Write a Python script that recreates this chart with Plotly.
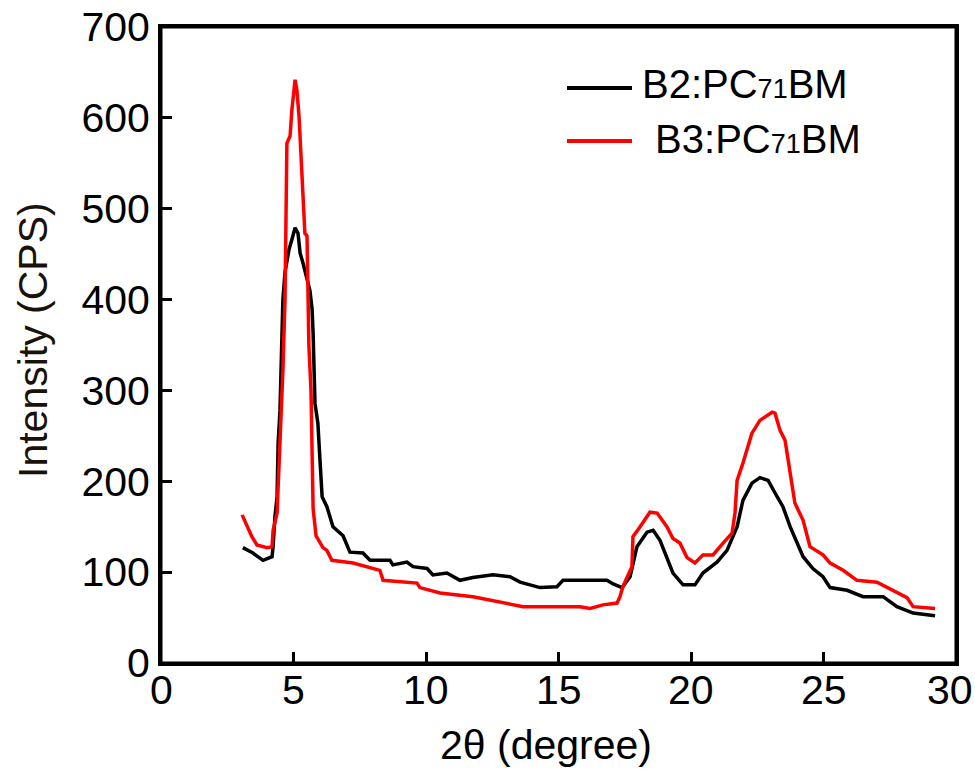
import plotly.graph_objects as go

# ---- data ----
b2_two_theta = [3.09, 3.47, 3.85, 4.19, 4.23, 4.30, 4.38, 4.42, 4.49, 4.57, 4.60, 4.68, 4.83, 4.94,
                5.06, 5.17, 5.25, 5.36, 5.62, 5.70, 5.74, 5.81, 5.92, 6.00, 6.08, 6.26, 6.49, 6.87,
                7.13, 7.62, 7.89, 8.64, 8.75, 9.28, 9.51, 10.04, 10.26, 10.79, 11.28, 11.77, 12.53,
                13.17, 13.55, 14.30, 14.94, 15.17, 16.83, 17.06, 17.40, 17.70, 17.96, 18.34, 18.57,
                18.83, 19.09, 19.32, 19.70, 20.15, 20.45, 20.98, 21.36, 21.74, 21.96, 22.30, 22.60,
                22.91, 23.25, 23.47, 23.74, 24.00, 24.23, 24.60, 24.98, 25.25, 25.89, 26.49, 27.25,
                27.77, 28.38, 29.21]
b2_intensity = [127, 121, 113, 117, 128, 161, 183, 242, 278, 374, 400, 430, 455, 466,
                479, 473, 451, 440, 410, 390, 363, 286, 264, 223, 183, 172, 150, 140,
                122, 121, 113, 113, 108, 111, 106, 104, 97, 99, 91, 94, 97,
                95, 89, 83, 84, 91, 91, 87, 83, 95, 128, 144, 146,
                135, 117, 99, 86, 86, 99, 111, 124, 150, 179, 198, 204,
                201, 183, 172, 150, 132, 117, 104, 95, 83, 80, 73, 73,
                62, 55, 52]

b3_two_theta = [3.06, 3.25, 3.43, 3.62, 4.00, 4.19, 4.23, 4.38, 4.49, 4.60, 4.68, 4.75, 4.87, 4.94,
                5.06, 5.13, 5.21, 5.32, 5.43, 5.51, 5.58, 5.66, 5.70, 5.74, 5.85, 6.11, 6.26, 6.45,
                7.25, 8.26, 8.38, 9.66, 9.77, 10.53, 11.77, 12.91, 13.66, 15.81, 16.19, 16.68, 17.21,
                17.32, 17.43, 17.77, 17.81, 18.08, 18.45, 18.72, 19.09, 19.32, 19.58, 19.85, 20.15,
                20.45, 20.83, 21.21, 21.55, 21.66, 21.74, 21.96, 22.30, 22.60, 23.06, 23.17, 23.36,
                23.55, 23.74, 23.92, 24.23, 24.49, 24.98, 25.25, 25.74, 26.26, 27.02, 27.62, 28.15,
                28.38, 29.21]
b3_intensity = [163, 150, 139, 130, 127, 128, 146, 165, 238, 322, 400, 572, 580, 609,
                642, 630, 601, 532, 473, 470, 350, 300, 230, 170, 140, 127, 124, 113,
                110, 102, 91, 88, 83, 77, 73, 66, 62, 62, 60, 64, 66,
                73, 84, 106, 139, 150, 166, 165, 150, 137, 132, 116, 110,
                119, 119, 132, 143, 165, 201, 220, 253, 267, 276, 275, 256,
                245, 209, 176, 157, 128, 119, 110, 102, 91, 89, 80, 72,
                62, 60]

series_names = ["B2:PC<span style='font-size:27px'>71</span>BM",
                " B3:PC<span style='font-size:27px'>71</span>BM"]
series_colors = ["#000000", "#FF0000"]
x_ticks = [0, 5, 10, 15, 20, 25, 30]
x_tick_labels = ["0", "5", "10", "15", "20", "25", "30"]
y_ticks = [0, 100, 200, 300, 400, 500, 600, 700]
y_tick_labels = ["0", "100", "200", "300", "400", "500", "600", "700"]

FONT = "Liberation Sans, Arial, sans-serif"
FS = 41
FS_LEG = 40

fig = go.Figure()
for xs, ys, name, col in [(b2_two_theta, b2_intensity, series_names[0], series_colors[0]),
                          (b3_two_theta, b3_intensity, series_names[1], series_colors[1])]:
    fig.add_trace(go.Scatter(x=xs, y=ys, mode="lines", name=name,
                             line=dict(color=col, width=3.5), showlegend=False))

# manual legend (long line samples like the original)
W, H = 975, 770
L, R, T, B = 161, 19, 27, 107
pw, ph = W - L - R, H - T - B
def px(xp):
    return (xp - L) / pw
def py(yp):
    return (H - B - yp) / ph

legend_rows = [(88, 640, 84), (141, 642, 139)]
for (yrow, xtext, ytext), name, col in zip(legend_rows, series_names, series_colors):
    fig.add_shape(type="line", xref="paper", yref="paper",
                  x0=px(567), x1=px(632), y0=py(yrow), y1=py(yrow),
                  line=dict(color=col, width=4))
    fig.add_annotation(xref="paper", yref="paper", x=px(xtext), y=py(ytext),
                       text=name, showarrow=False, xanchor="left", yanchor="middle",
                       font=dict(family=FONT, size=FS_LEG, color="#000000"))

# frame around the plotting area
fig.add_shape(type="rect", xref="paper", yref="paper", x0=0, x1=1, y0=0, y1=1,
              line=dict(color="black", width=3), fillcolor="rgba(0,0,0,0)", layer="above")

axis_common = dict(showline=True, linecolor="black", linewidth=3, mirror=True,
                   ticks="inside", ticklen=11, tickwidth=3, tickcolor="black",
                   showgrid=False, zeroline=False, automargin=False,
                   tickfont=dict(family=FONT, size=FS, color="#000000"))

fig.update_xaxes(range=[0, 30], tickvals=x_ticks, ticktext=[""] * len(x_ticks),
                 **axis_common)
fig.update_yaxes(range=[0, 700], tickvals=y_ticks, ticktext=y_tick_labels,
                 **axis_common)

# x tick labels (placed at the tick positions via the x axis; the last one pulled inward a bit)
for i, (xv, lab) in enumerate(zip(x_ticks, x_tick_labels)):
    fig.add_annotation(xref="x", yref="paper", x=xv, y=py(690),
                       xshift=(-6 if i == len(x_ticks) - 1 else 0),
                       text=lab, showarrow=False, xanchor="center", yanchor="middle",
                       font=dict(family=FONT, size=FS, color="#000000"))

# axis titles
fig.add_annotation(xref="paper", yref="paper", x=px(546), y=py(745),
                   text="2θ (degree)", showarrow=False, xanchor="center", yanchor="middle",
                   font=dict(family=FONT, size=FS, color="#000000"))
fig.add_annotation(xref="paper", yref="paper", x=px(33), y=py(340),
                   text="Intensity (CPS)", showarrow=False, textangle=-90,
                   xanchor="center", yanchor="middle",
                   font=dict(family=FONT, size=FS, color="#1a1208"))

fig.update_layout(width=W, height=H, margin=dict(l=L, r=R, t=T, b=B, pad=0),
                  plot_bgcolor="white", paper_bgcolor="white",
                  font=dict(family=FONT, size=FS, color="#000000"))

fig.write_html("out.html")
